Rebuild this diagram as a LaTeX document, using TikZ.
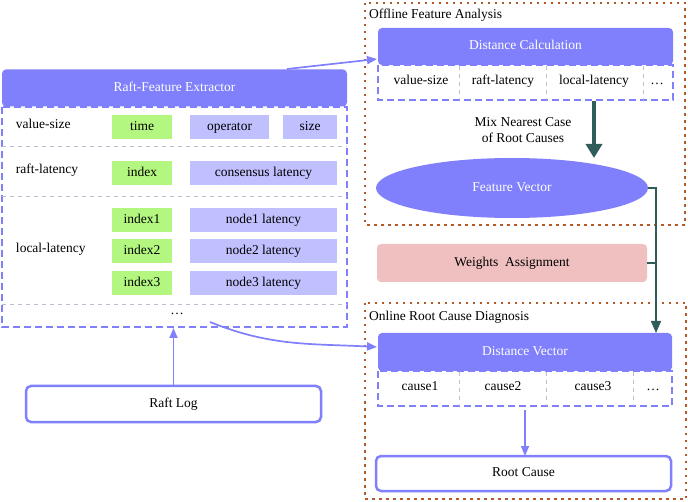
\documentclass[tikz,border=0pt]{standalone}
\usepackage{fontspec}
\setmainfont{Liberation Serif}
\usetikzlibrary{arrows.meta,shapes.geometric,calc}
\definecolor{mainblue}{RGB}{128,128,252}
\definecolor{lightpurple}{RGB}{192,192,255}
\definecolor{lgreen}{RGB}{180,247,128}
\definecolor{wpink}{RGB}{240,192,192}
\definecolor{dteal}{RGB}{47,94,90}
\definecolor{dbrown}{RGB}{180,90,40}
\definecolor{sepgray}{RGB}{190,190,208}
\begin{document}
\begin{tikzpicture}[x=1pt,y=-1pt,
  font=\fontsize{13.5}{15}\selectfont,
  every node/.style={inner sep=0pt,outer sep=0pt},
  txt/.style={text height=9.5pt,text depth=3pt},
  header/.style={fill=mainblue,rounded corners=4pt,text=white,minimum width=#1,minimum height=37pt,txt},
  dashbox/.style={draw=mainblue,line width=1.5pt,dash pattern=on 7pt off 4pt},
  sepline/.style={draw=sepgray,line width=1pt,dash pattern=on 4pt off 4pt},
  gbox/.style={fill=lgreen,minimum width=60pt,minimum height=24pt,txt},
  pbox/.style={fill=lightpurple,minimum width=#1,minimum height=24pt,txt},
  lbl/.style={anchor=west,txt},
  cell/.style={txt},
  group/.style={draw=dbrown,line width=2pt,dash pattern=on 2.5pt off 4.5pt},
  plainbox/.style={draw=mainblue,fill=white,line width=2.5pt,rounded corners=5pt,minimum width=295pt,minimum height=35pt,txt},
  barrow/.style={draw=mainblue,line width=1.7pt,-{Triangle[length=10pt,width=8pt]}},
  tarrow/.style={draw=dteal,line width=1.5pt},
]
\useasboundingbox (0,0) rectangle (688,502);

% ---------- Extractor ----------
\draw[dashbox] (2,107) rectangle (347,327);
\node[header=345pt] (ext) at (174.5,88) {Raft-Feature Extractor};
\draw[sepline] (2,147) -- (347,147);
\draw[sepline] (2,197) -- (347,197);
\draw[sepline] (2,305) -- (347,305);

\node[lbl] (l1) at (16,125) {value-size};
\node[lbl] (l2) at (16,170) {raft-latency};
\node[lbl] (l3) at (16,249) {local-latency};

\node[gbox] (time) at (142,127) {time};
\node[pbox=79pt] (op) at (229.5,127) {operator};
\node[pbox=54pt] (size) at (310,127) {size};
\node[gbox] (idx) at (142,173) {index};
\node[pbox=147pt] (cons) at (263.5,173) {consensus latency};
\node[gbox] (idx1) at (142,220.5) {index1};
\node[pbox=147pt] (n1) at (263.5,220.5) {node1 latency};
\node[gbox] (idx2) at (142,251.5) {index2};
\node[pbox=147pt] (n2) at (263.5,251.5) {node2 latency};
\node[gbox] (idx3) at (142,283) {index3};
\node[pbox=147pt] (n3) at (263.5,283) {node3 latency};
\node[cell] (dots) at (177,311) {…};

% ---------- Raft Log ----------
\node[plainbox,minimum height=36pt] (log) at (173.5,404) {Raft Log};
\coordinate (extbot) at (173.5,328);
\draw[barrow] (log.north) -- (extbot);

% ---------- Offline Feature Analysis ----------
\draw[group] (365,3) rectangle (685,225);
\node[lbl] (offl) at (369,15) {Offline Feature Analysis};
\draw[dashbox] (378,65) rectangle (673,100);
\node[header=295pt] (dc) at (525.5,46.5) {Distance Calculation};
\draw[sepline] (459,66) -- (459,100);
\draw[sepline] (546,66) -- (546,100);
\draw[sepline] (643,66) -- (643,100);
\node[cell] (c1) at (421,81) {value-size};
\node[cell] (c2) at (503,81) {raft-latency};
\node[cell] (c3) at (594,81) {local-latency};
\node[cell] (c4) at (657,81) {…};

\node[ellipse,fill=mainblue,text=white,minimum width=272pt,minimum height=60pt,txt] (fv) at (512,188) {Feature Vector};
\coordinate (dcb) at (594,101);
\draw[draw=dteal,line width=4.5pt,-{Triangle[length=14pt,width=16pt]}] (dcb) -- (fv.north -| dcb);
\node[align=center,font=\fontsize{13.5}{16}\selectfont] (mix) at (523,130) {Mix Nearest Case\\of Root Causes};

% ---------- Weights ----------
\node[fill=wpink,rounded corners=4pt,minimum width=270pt,minimum height=38pt,txt] (w) at (512,263) {Weights\ \ Assignment};

% ---------- Online Root Cause Diagnosis ----------
\draw[group] (365,303) rectangle (686,499);
\node[lbl] (onl) at (369,317) {Online Root Cause Diagnosis};
\draw[dashbox] (378,371) rectangle (672,406);
\node[header=294pt,minimum height=38pt] (dv) at (525,352) {Distance Vector};
\draw[sepline] (459,372) -- (459,406);
\draw[sepline] (546,372) -- (546,406);
\draw[sepline] (633,372) -- (633,406);
\node[cell] (r1) at (420,387) {cause1};
\node[cell] (r2) at (503,387) {cause2};
\node[cell] (r3) at (593,387) {cause3};
\node[cell] (r4) at (653,387) {…};

\node[plainbox] (rc) at (523.5,473.5) {Root Cause};
\coordinate (dvb) at (525,410);
\draw[barrow] (dvb) -- (rc.north -| dvb);

% ---------- connectors ----------
\coordinate (tv) at (656,188);
\draw[tarrow,-{Triangle[length=12pt,width=10pt]}] (fv.east) -- (tv) -- (tv |- dv.north);
\draw[tarrow] (w.east) -- (w.east -| tv);

\coordinate (a1) at (287,69);
\coordinate (a2) at (377,59);
\draw[barrow] (a1) -- (a2);
\coordinate (b1) at (210,322);
\coordinate (b2) at (377,347);
\draw[barrow] (b1) to[out=-22,in=177] (b2);
\end{tikzpicture}
\end{document}
